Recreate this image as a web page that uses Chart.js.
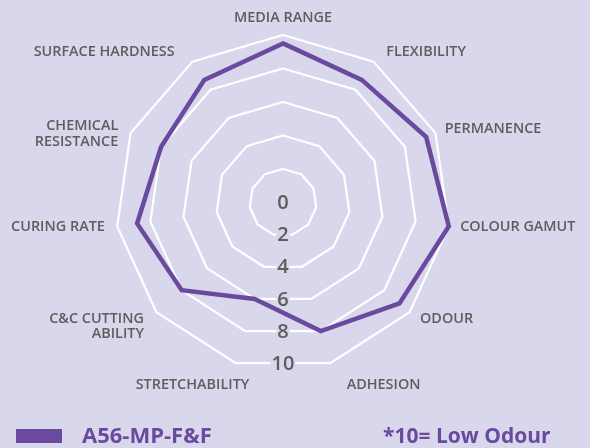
<!DOCTYPE html>
<html>
<head>
<meta charset="utf-8">
<script src="https://cdn.jsdelivr.net/npm/chart.js@4/dist/chart.umd.min.js"></script>
<style>
  html, body { margin: 0; padding: 0; background: #d9d7ec; }
  #wrap { width: 590px; height: 448px; }
  canvas { display: block; }
</style>
</head>
<body>
<div id="wrap"><canvas id="c" width="590" height="448"></canvas></div>
<script>
// ---- data ----
const categories = [
  'MEDIA RANGE', 'FLEXIBILITY', 'PERMANENCE', 'COLOUR GAMUT', 'ODOUR',
  'ADHESION', 'STRETCHABILITY', ['C&C CUTTING', 'ABILITY'], 'CURING RATE',
  ['CHEMICAL', 'RESISTANCE'], 'SURFACE HARDNESS'
];
const seriesName = 'A56-MP-F&F';
const seriesValues = [9.5, 8.7, 9.4, 10, 9.2, 8, 6, 8, 8.8, 8, 8.7];
const tickValues = [0, 2, 4, 6, 8, 10];
const footnote = '*10= Low Odour';

// ---- styles / layout ----
const BG = '#d9d7ec';
const PURPLE = '#6a4a9e';
const GREY = '#5d5d5d';
const FONT = "'Open Sans', 'Noto Sans', sans-serif";
// small nudges [dx, dy] applied to each point label after placing it just outside the outer ring
const labelNudge = [[0, -5], [6, 1], [-2, 1], [-1, -1], [1, -1], [13, 10], [17, 10], [-3, 6], [0, -1], [-1, 6], [-11, 1]];

const overlay = {
  id: 'overlay',
  beforeDatasetsDraw(chart) {
    const s = chart.scales.r;
    const ctx = chart.ctx;
    const n = chart.data.labels.length;
    ctx.save();
    ctx.font = "600 20px " + FONT;
    ctx.textAlign = 'center';
    ctx.textBaseline = 'middle';
    s.ticks.forEach(t => {
      const r = s.getDistanceFromCenterForValue(t.value);
      const y = s.yCenter + r * Math.cos(Math.PI / n) + 1;
      const x = s.xCenter;
      const w = ctx.measureText(t.label).width;
      ctx.fillStyle = BG;
      ctx.fillRect(x - w / 2 - 1, y - 8, w + 2, 16);
      ctx.fillStyle = GREY;
      ctx.fillText(t.label, x, y);
    });
    ctx.restore();
  },
  afterDraw(chart) {
    const s = chart.scales.r;
    const ctx = chart.ctx;
    ctx.save();
    ctx.font = "600 14.4px " + FONT;
    ctx.fillStyle = GREY;
    ctx.textBaseline = 'middle';
    const outer = s.getDistanceFromCenterForValue(s.max) + 12.5;
    chart.data.labels.forEach((lab, i) => {
      const p = s.getPointPosition(i, outer);
      const dx = p.x - s.xCenter;
      ctx.textAlign = Math.abs(dx) < 2 ? 'center' : (dx > 0 ? 'left' : 'right');
      const lines = Array.isArray(lab) ? lab : [lab];
      const lh = 15.5;
      const x = p.x + labelNudge[i][0];
      const y0 = p.y + labelNudge[i][1] - (lines.length - 1) * lh / 2;
      lines.forEach((ln, k) => ctx.fillText(ln, x, y0 + k * lh));
    });
    // legend
    const ds = chart.data.datasets[0];
    ctx.fillStyle = ds.borderColor;
    ctx.fillRect(16, 429, 46, 14);
    ctx.textAlign = 'left';
    ctx.fillStyle = PURPLE;
    ctx.font = "700 22px " + FONT;
    ctx.fillText(ds.label, 82, 437);
    ctx.font = "700 21px " + FONT;
    ctx.fillText(footnote, 383, 437);
    ctx.restore();
  }
};

new Chart(document.getElementById('c'), {
  type: 'radar',
  data: {
    labels: categories,
    datasets: [{
      label: seriesName,
      data: seriesValues,
      borderColor: PURPLE,
      backgroundColor: 'transparent',
      borderWidth: 4.5,
      pointRadius: 0,
      pointHoverRadius: 0,
      fill: false,
      tension: 0
    }]
  },
  options: {
    responsive: false,
    animation: false,
    events: [],
    plugins: { legend: { display: false }, tooltip: { enabled: false } },
    scales: {
      r: {
        min: 0,
        max: 10,
        ticks: { stepSize: 2, display: false },
        afterBuildTicks(scale) { scale.ticks = tickValues.map(v => ({ value: v })); },
        grid: { color: '#ffffff', lineWidth: 2.2, circular: false },
        angleLines: { display: false },
        pointLabels: { display: false },
        afterFit(scale) {
          scale.xCenter = 283;
          scale.yCenter = 202.5;
          scale.drawingArea = 167.5;
        }
      }
    }
  },
  plugins: [overlay]
});
</script>
</body>
</html>
